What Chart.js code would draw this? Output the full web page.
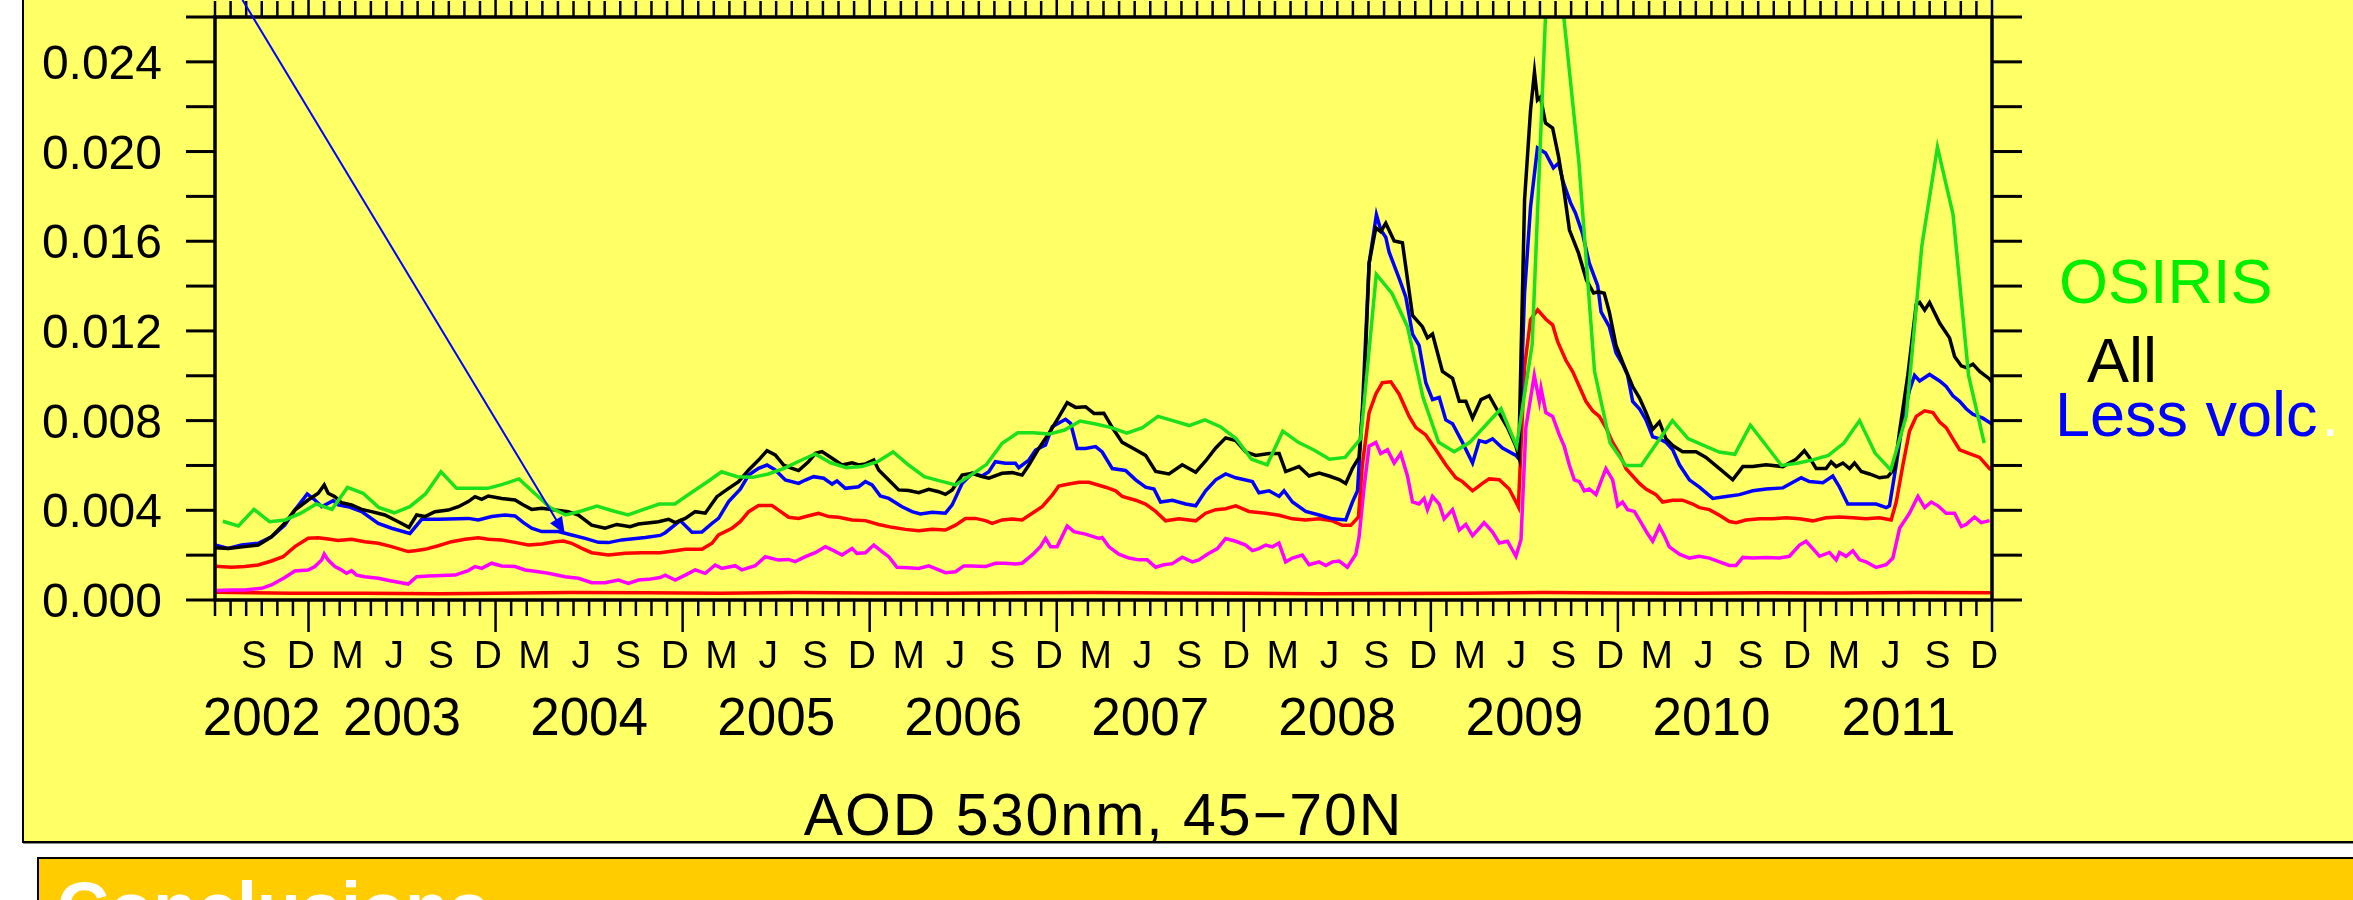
<!DOCTYPE html>
<html>
<head>
<meta charset="utf-8">
<title>AOD 530nm, 45-70N</title>
<script src="https://cdn.jsdelivr.net/npm/chart.js@4.4.1/dist/chart.umd.min.js"></script>
<style>
  html, body { margin: 0; padding: 0; background: #fff; width: 2353px; height: 900px; overflow: hidden; }
  #panel { position: absolute; left: 22px; top: -10px; width: 2400px; height: 849px; background: #ffff66; border: 2px solid #000; box-shadow: 1px 1px 0 #888; }
  #concl { position: absolute; left: 37px; top: 857px; width: 2400px; height: 200px; background: #ffcc00; border: 2px solid #000; }
  #concl span { position: absolute; left: 18px; top: 13px; font: bold 72px "Liberation Sans", Arial, sans-serif; line-height: 72px; color: #fff; }
  #chart { position: absolute; left: 0; top: 0; }
</style>
</head>
<body>
<div id="panel"></div>
<div id="concl"><span>Conclusions</span></div>
<canvas id="chart" width="2353" height="900"></canvas>
<script>
// tick labels
const yTickValues = [0, 0.002, 0.004, 0.006, 0.008, 0.010, 0.012, 0.014, 0.016, 0.018, 0.020, 0.022, 0.024, 0.026];
const yLabelValues = [0, 0.004, 0.008, 0.012, 0.016, 0.020, 0.024];
const yLabels = ['0.000', '0.004', '0.008', '0.012', '0.016', '0.020', '0.024'];
const labelMonths = [3, 6, 9, 12];
const monthLetters = ['M', 'J', 'S', 'D'];
const yearLabels = ['2002', '2003', '2004', '2005', '2006', '2007', '2008', '2009', '2010', '2011'];

// OSIRIS, one value per month from Jul 2002 to Dec 2011
const osirisAod = [
  0.00351, 0.00330, 0.00404, 0.00349, 0.00357, 0.00387, 0.00428, 0.00404, 0.00502, 0.00476, 0.00413, 0.00389,
  0.00416, 0.00473, 0.00572, 0.00498, 0.00498, 0.00498, 0.00517, 0.00540, 0.00476, 0.00412, 0.00379, 0.00397,
  0.00419, 0.00398, 0.00379, 0.00404, 0.00428, 0.00428, 0.00476, 0.00523, 0.00572, 0.00550, 0.00547, 0.00562,
  0.00587, 0.00620, 0.00651, 0.00612, 0.00590, 0.00595, 0.00617, 0.00660, 0.00602, 0.00550, 0.00531, 0.00513,
  0.00557, 0.00605, 0.00699, 0.00746, 0.00746, 0.00740, 0.00758, 0.00798, 0.00785, 0.00769, 0.00744, 0.00769,
  0.00819, 0.00799, 0.00778, 0.00803, 0.00773, 0.00720, 0.00628, 0.00603, 0.00753, 0.00703, 0.00669, 0.00628,
  0.00636, 0.00720, 0.01452, 0.01368, 0.01219, 0.00903, 0.00703, 0.00661, 0.00703, 0.00778, 0.00853, 0.00686,
  0.01140, 0.02850, 0.02620, 0.01950, 0.01020, 0.00700, 0.00600, 0.00600, 0.00700, 0.00800, 0.00720, 0.00690,
  0.00660, 0.00650, 0.00780, 0.00690, 0.00600, 0.00610, 0.00625, 0.00645, 0.00700, 0.00800, 0.00655, 0.00580,
  0.00820, 0.01580, 0.02020, 0.01720, 0.01000, 0.00700
];

// [year, aod]
const allAod = [
  [2002.500,0.00233],[2002.570,0.00230],[2002.659,0.00238],[2002.731,0.00245],[2002.802,0.00282],[2002.873,0.00342],
  [2002.927,0.00401],[2002.998,0.00446],[2003.052,0.00476],[2003.084,0.00513],[2003.105,0.00476],[2003.141,0.00461],
  [2003.177,0.00434],[2003.230,0.00424],[2003.284,0.00404],[2003.337,0.00394],[2003.408,0.00379],[2003.480,0.00349],
  [2003.537,0.00324],[2003.578,0.00379],[2003.622,0.00372],[2003.676,0.00394],[2003.747,0.00401],[2003.801,0.00416],
  [2003.854,0.00439],[2003.890,0.00461],[2003.926,0.00449],[2003.961,0.00464],[2004.033,0.00453],[2004.104,0.00446],
  [2004.149,0.00424],[2004.193,0.00404],[2004.247,0.00409],[2004.318,0.00401],[2004.389,0.00394],[2004.443,0.00379],
  [2004.514,0.00334],[2004.585,0.00320],[2004.648,0.00337],[2004.719,0.00327],[2004.764,0.00339],[2004.871,0.00349],
  [2004.925,0.00360],[2004.960,0.00345],[2005.014,0.00364],[2005.067,0.00394],[2005.121,0.00387],[2005.183,0.00461],
  [2005.246,0.00498],[2005.299,0.00528],[2005.353,0.00580],[2005.406,0.00624],[2005.451,0.00666],[2005.495,0.00647],
  [2005.540,0.00602],[2005.585,0.00587],[2005.620,0.00577],[2005.674,0.00617],[2005.709,0.00654],[2005.745,0.00662],
  [2005.799,0.00632],[2005.852,0.00602],[2005.906,0.00612],[2005.941,0.00602],[2005.977,0.00607],[2006.022,0.00624],
  [2006.048,0.00580],[2006.102,0.00535],[2006.155,0.00491],[2006.209,0.00488],[2006.262,0.00479],[2006.316,0.00494],
  [2006.369,0.00483],[2006.405,0.00471],[2006.441,0.00491],[2006.494,0.00557],[2006.548,0.00565],[2006.601,0.00550],
  [2006.637,0.00543],[2006.708,0.00565],[2006.762,0.00568],[2006.815,0.00557],[2006.851,0.00602],[2006.904,0.00676],
  [2006.958,0.00743],[2007.002,0.00803],[2007.056,0.00880],[2007.101,0.00859],[2007.154,0.00862],[2007.199,0.00832],
  [2007.252,0.00833],[2007.297,0.00769],[2007.350,0.00703],[2007.422,0.00670],[2007.475,0.00645],[2007.529,0.00573],
  [2007.600,0.00562],[2007.671,0.00603],[2007.743,0.00570],[2007.796,0.00620],[2007.850,0.00678],[2007.903,0.00723],
  [2007.957,0.00711],[2008.010,0.00661],[2008.064,0.00645],[2008.135,0.00653],[2008.189,0.00653],[2008.224,0.00573],
  [2008.295,0.00595],[2008.349,0.00553],[2008.403,0.00566],[2008.456,0.00553],[2008.510,0.00537],[2008.545,0.00520],
  [2008.581,0.00587],[2008.616,0.00636],[2008.643,0.00936],[2008.670,0.01502],[2008.706,0.01660],[2008.732,0.01643],
  [2008.759,0.01680],[2008.804,0.01601],[2008.848,0.01593],[2008.902,0.01269],[2008.955,0.01219],[2008.982,0.01169],
  [2009.009,0.01186],[2009.062,0.01019],[2009.116,0.00989],[2009.152,0.00886],[2009.187,0.00886],[2009.223,0.00811],
  [2009.268,0.00894],[2009.312,0.00911],[2009.357,0.00844],[2009.410,0.00769],[2009.455,0.00686],[2009.470,0.00640],
  [2009.501,0.01784],[2009.533,0.02185],[2009.554,0.02355],[2009.570,0.02230],[2009.586,0.02243],[2009.613,0.02127],
  [2009.651,0.02105],[2009.683,0.01976],[2009.709,0.01842],[2009.741,0.01650],[2009.789,0.01548],[2009.832,0.01427],
  [2009.870,0.01369],[2009.897,0.01374],[2009.927,0.01368],[2009.954,0.01285],[2009.990,0.01136],[2010.025,0.01061],
  [2010.079,0.00952],[2010.115,0.00902],[2010.150,0.00836],[2010.186,0.00761],[2010.222,0.00794],[2010.257,0.00719],
  [2010.293,0.00689],[2010.346,0.00661],[2010.418,0.00661],[2010.471,0.00636],[2010.543,0.00586],[2010.614,0.00536],
  [2010.668,0.00595],[2010.721,0.00595],[2010.792,0.00603],[2010.882,0.00595],[2010.953,0.00628],[2010.997,0.00666],
  [2011.024,0.00636],[2011.060,0.00586],[2011.113,0.00586],[2011.140,0.00616],[2011.167,0.00595],[2011.203,0.00611],
  [2011.238,0.00586],[2011.265,0.00611],[2011.301,0.00573],[2011.345,0.00562],[2011.399,0.00545],[2011.443,0.00550],
  [2011.479,0.00586],[2011.506,0.00753],[2011.550,0.01002],[2011.595,0.01318],[2011.613,0.01327],[2011.640,0.01293],
  [2011.666,0.01327],[2011.720,0.01235],[2011.773,0.01169],[2011.800,0.01086],[2011.836,0.01044],[2011.862,0.01036],
  [2011.898,0.01052],[2011.934,0.01019],[2011.987,0.00986],[2012.000,0.00970]
];

const lessVolcAod = [
  [2002.500,0.00245],[2002.570,0.00230],[2002.642,0.00245],[2002.731,0.00253],[2002.802,0.00282],[2002.873,0.00334],
  [2002.927,0.00401],[2002.993,0.00473],[2003.034,0.00446],[2003.070,0.00416],[2003.132,0.00443],[2003.159,0.00424],
  [2003.212,0.00416],[2003.284,0.00394],[2003.373,0.00342],[2003.444,0.00320],[2003.542,0.00297],[2003.605,0.00360],
  [2003.694,0.00360],[2003.854,0.00364],[2003.908,0.00357],[2003.979,0.00372],[2004.050,0.00379],[2004.104,0.00375],
  [2004.149,0.00345],[2004.193,0.00320],[2004.247,0.00305],[2004.336,0.00305],[2004.407,0.00290],[2004.479,0.00275],
  [2004.550,0.00257],[2004.603,0.00256],[2004.675,0.00268],[2004.800,0.00279],[2004.880,0.00288],[2004.907,0.00300],
  [2004.987,0.00354],[2005.050,0.00302],[2005.103,0.00303],[2005.157,0.00342],[2005.192,0.00364],[2005.246,0.00439],
  [2005.308,0.00494],[2005.353,0.00557],[2005.406,0.00587],[2005.451,0.00602],[2005.495,0.00580],[2005.549,0.00535],
  [2005.620,0.00520],[2005.656,0.00535],[2005.700,0.00550],[2005.754,0.00543],[2005.799,0.00517],[2005.825,0.00531],
  [2005.870,0.00498],[2005.941,0.00505],[2005.977,0.00528],[2006.013,0.00513],[2006.057,0.00464],[2006.102,0.00453],
  [2006.173,0.00416],[2006.227,0.00394],[2006.271,0.00384],[2006.334,0.00391],[2006.405,0.00387],[2006.441,0.00424],
  [2006.494,0.00520],[2006.548,0.00565],[2006.601,0.00553],[2006.637,0.00572],[2006.672,0.00617],[2006.726,0.00610],
  [2006.779,0.00610],[2006.797,0.00590],[2006.851,0.00624],[2006.887,0.00669],[2006.940,0.00691],[2006.976,0.00773],
  [2007.047,0.00806],[2007.074,0.00788],[2007.109,0.00676],[2007.154,0.00676],[2007.208,0.00684],[2007.243,0.00660],
  [2007.297,0.00586],[2007.368,0.00578],[2007.422,0.00536],[2007.475,0.00503],[2007.520,0.00495],[2007.555,0.00437],
  [2007.618,0.00445],[2007.689,0.00428],[2007.743,0.00420],[2007.796,0.00487],[2007.850,0.00536],[2007.903,0.00562],
  [2007.957,0.00545],[2008.046,0.00528],[2008.081,0.00478],[2008.135,0.00487],[2008.189,0.00462],[2008.215,0.00487],
  [2008.260,0.00437],[2008.331,0.00395],[2008.403,0.00379],[2008.474,0.00362],[2008.545,0.00357],[2008.581,0.00437],
  [2008.608,0.00487],[2008.634,0.00853],[2008.670,0.01502],[2008.709,0.01718],[2008.732,0.01651],[2008.759,0.01618],
  [2008.777,0.01551],[2008.830,0.01435],[2008.866,0.01352],[2008.902,0.01186],[2008.937,0.01136],[2008.973,0.00969],
  [2009.009,0.00894],[2009.045,0.00903],[2009.080,0.00803],[2009.116,0.00786],[2009.169,0.00703],[2009.223,0.00611],
  [2009.259,0.00711],[2009.294,0.00703],[2009.330,0.00719],[2009.383,0.00678],[2009.455,0.00645],[2009.470,0.00630],
  [2009.501,0.01369],[2009.533,0.01753],[2009.570,0.02016],[2009.613,0.01994],[2009.655,0.01927],[2009.683,0.01949],
  [2009.709,0.01860],[2009.747,0.01771],[2009.773,0.01726],[2009.811,0.01634],[2009.847,0.01502],[2009.892,0.01402],
  [2009.910,0.01285],[2009.954,0.01219],[2009.990,0.01102],[2010.025,0.01052],[2010.052,0.01002],[2010.079,0.00886],
  [2010.115,0.00853],[2010.150,0.00803],[2010.186,0.00728],[2010.222,0.00719],[2010.257,0.00703],[2010.293,0.00670],
  [2010.329,0.00603],[2010.382,0.00536],[2010.436,0.00503],[2010.507,0.00453],[2010.578,0.00462],[2010.650,0.00470],
  [2010.721,0.00487],[2010.792,0.00495],[2010.882,0.00500],[2010.980,0.00545],[2011.024,0.00528],[2011.096,0.00523],
  [2011.149,0.00553],[2011.185,0.00503],[2011.229,0.00428],[2011.292,0.00428],[2011.381,0.00428],[2011.435,0.00412],
  [2011.452,0.00420],[2011.488,0.00603],[2011.524,0.00803],[2011.559,0.00936],[2011.586,0.01002],[2011.613,0.00977],
  [2011.666,0.01006],[2011.720,0.00977],[2011.755,0.00952],[2011.791,0.00911],[2011.827,0.00886],[2011.862,0.00853],
  [2011.898,0.00828],[2011.951,0.00811],[2012.000,0.00785]
];

const redAod = [
  [2002.500,0.00150],[2002.588,0.00146],[2002.659,0.00149],[2002.731,0.00156],[2002.802,0.00174],[2002.864,0.00193],
  [2002.927,0.00238],[2002.998,0.00275],[2003.052,0.00278],[2003.105,0.00272],[2003.159,0.00265],[2003.230,0.00271],
  [2003.301,0.00260],[2003.373,0.00253],[2003.444,0.00238],[2003.533,0.00216],[2003.569,0.00220],[2003.622,0.00226],
  [2003.694,0.00242],[2003.765,0.00260],[2003.837,0.00271],[2003.908,0.00278],[2003.961,0.00271],[2004.033,0.00268],
  [2004.104,0.00257],[2004.175,0.00245],[2004.247,0.00250],[2004.318,0.00260],[2004.363,0.00263],[2004.407,0.00253],
  [2004.461,0.00230],[2004.514,0.00211],[2004.603,0.00201],[2004.693,0.00208],[2004.782,0.00211],[2004.880,0.00211],
  [2004.960,0.00220],[2005.014,0.00226],[2005.103,0.00226],[2005.157,0.00253],[2005.192,0.00290],[2005.264,0.00320],
  [2005.308,0.00349],[2005.353,0.00394],[2005.406,0.00421],[2005.478,0.00421],[2005.513,0.00401],[2005.567,0.00369],
  [2005.620,0.00364],[2005.674,0.00376],[2005.727,0.00387],[2005.781,0.00372],[2005.834,0.00369],[2005.906,0.00357],
  [2005.977,0.00354],[2006.048,0.00337],[2006.120,0.00324],[2006.191,0.00315],[2006.262,0.00309],[2006.334,0.00315],
  [2006.405,0.00312],[2006.459,0.00334],[2006.512,0.00363],[2006.565,0.00364],[2006.619,0.00354],[2006.655,0.00342],
  [2006.708,0.00357],[2006.762,0.00361],[2006.815,0.00357],[2006.869,0.00387],[2006.922,0.00416],[2006.976,0.00468],
  [2007.011,0.00508],[2007.065,0.00517],[2007.119,0.00525],[2007.172,0.00525],[2007.261,0.00503],[2007.315,0.00487],
  [2007.350,0.00462],[2007.422,0.00445],[2007.475,0.00428],[2007.529,0.00395],[2007.582,0.00353],[2007.653,0.00362],
  [2007.743,0.00353],[2007.796,0.00387],[2007.850,0.00403],[2007.903,0.00407],[2007.957,0.00420],[2008.028,0.00395],
  [2008.117,0.00387],[2008.189,0.00378],[2008.260,0.00362],[2008.331,0.00357],[2008.403,0.00362],[2008.474,0.00353],
  [2008.527,0.00333],[2008.572,0.00333],[2008.613,0.00370],[2008.634,0.00603],[2008.670,0.00836],[2008.706,0.00919],
  [2008.741,0.00969],[2008.786,0.00973],[2008.830,0.00919],[2008.884,0.00819],[2008.920,0.00769],[2008.973,0.00736],
  [2009.027,0.00670],[2009.080,0.00603],[2009.134,0.00545],[2009.169,0.00528],[2009.223,0.00487],[2009.276,0.00520],
  [2009.312,0.00540],[2009.366,0.00536],[2009.419,0.00495],[2009.455,0.00437],[2009.468,0.00415],[2009.501,0.01040],
  [2009.533,0.01250],[2009.571,0.01294],[2009.615,0.01252],[2009.651,0.01227],[2009.678,0.01152],[2009.722,0.01069],
  [2009.758,0.01019],[2009.794,0.00952],[2009.829,0.00886],[2009.865,0.00844],[2009.901,0.00819],[2009.936,0.00769],
  [2009.972,0.00703],[2010.008,0.00653],[2010.043,0.00586],[2010.079,0.00553],[2010.115,0.00520],[2010.150,0.00495],
  [2010.204,0.00470],[2010.239,0.00437],[2010.293,0.00445],[2010.346,0.00445],[2010.400,0.00428],[2010.436,0.00412],
  [2010.489,0.00403],[2010.543,0.00378],[2010.596,0.00350],[2010.632,0.00345],[2010.685,0.00357],[2010.757,0.00362],
  [2010.828,0.00362],[2010.899,0.00367],[2010.971,0.00362],[2011.042,0.00353],[2011.113,0.00367],[2011.185,0.00370],
  [2011.256,0.00367],[2011.327,0.00362],[2011.399,0.00367],[2011.461,0.00357],[2011.488,0.00437],[2011.524,0.00603],
  [2011.559,0.00753],[2011.595,0.00819],[2011.640,0.00844],[2011.684,0.00836],[2011.720,0.00794],[2011.755,0.00769],
  [2011.791,0.00719],[2011.827,0.00670],[2011.880,0.00653],[2011.934,0.00636],[2011.987,0.00586],[2012.000,0.00580]
];

const magentaAod = [
  [2002.500,0.00042],[2002.588,0.00045],[2002.659,0.00045],[2002.749,0.00052],[2002.802,0.00067],[2002.873,0.00100],
  [2002.927,0.00129],[2002.998,0.00134],[2003.034,0.00149],[2003.070,0.00178],[2003.084,0.00205],[2003.105,0.00178],
  [2003.141,0.00149],[2003.177,0.00134],[2003.203,0.00119],[2003.230,0.00131],[2003.257,0.00111],[2003.301,0.00104],
  [2003.373,0.00097],[2003.444,0.00085],[2003.533,0.00071],[2003.578,0.00104],[2003.640,0.00107],[2003.712,0.00109],
  [2003.783,0.00111],[2003.854,0.00131],[2003.890,0.00149],[2003.926,0.00141],[2003.979,0.00164],[2004.033,0.00152],
  [2004.104,0.00149],[2004.158,0.00134],[2004.229,0.00126],[2004.282,0.00119],[2004.372,0.00104],[2004.443,0.00097],
  [2004.514,0.00077],[2004.585,0.00077],[2004.657,0.00089],[2004.710,0.00074],[2004.764,0.00089],[2004.817,0.00092],
  [2004.880,0.00100],[2004.907,0.00111],[2004.960,0.00089],[2005.014,0.00111],[2005.067,0.00134],[2005.121,0.00119],
  [2005.174,0.00156],[2005.210,0.00141],[2005.281,0.00153],[2005.317,0.00134],[2005.388,0.00153],[2005.442,0.00193],
  [2005.513,0.00178],[2005.567,0.00181],[2005.602,0.00171],[2005.656,0.00193],[2005.709,0.00211],[2005.763,0.00238],
  [2005.808,0.00220],[2005.852,0.00201],[2005.906,0.00230],[2005.932,0.00208],[2005.977,0.00211],[2006.022,0.00245],
  [2006.066,0.00216],[2006.102,0.00193],[2006.146,0.00146],[2006.209,0.00144],[2006.262,0.00141],[2006.316,0.00152],
  [2006.369,0.00134],[2006.405,0.00122],[2006.459,0.00126],[2006.503,0.00152],[2006.548,0.00152],[2006.619,0.00149],
  [2006.672,0.00164],[2006.726,0.00164],[2006.779,0.00161],[2006.815,0.00164],[2006.869,0.00201],[2006.913,0.00238],
  [2006.940,0.00275],[2006.967,0.00238],[2007.002,0.00238],[2007.056,0.00330],[2007.092,0.00305],[2007.154,0.00294],
  [2007.225,0.00275],[2007.243,0.00279],[2007.279,0.00237],[2007.332,0.00204],[2007.386,0.00187],[2007.439,0.00179],
  [2007.484,0.00179],[2007.529,0.00146],[2007.573,0.00157],[2007.618,0.00162],[2007.671,0.00191],[2007.725,0.00170],
  [2007.760,0.00179],[2007.805,0.00204],[2007.859,0.00229],[2007.903,0.00274],[2007.957,0.00262],[2008.010,0.00245],
  [2008.046,0.00220],[2008.081,0.00229],[2008.117,0.00245],[2008.153,0.00237],[2008.188,0.00254],[2008.224,0.00170],
  [2008.260,0.00187],[2008.313,0.00200],[2008.349,0.00157],[2008.403,0.00170],[2008.438,0.00154],[2008.474,0.00170],
  [2008.510,0.00174],[2008.554,0.00146],[2008.599,0.00204],[2008.616,0.00279],[2008.643,0.00503],[2008.670,0.00686],
  [2008.706,0.00703],[2008.732,0.00653],[2008.768,0.00670],[2008.804,0.00611],[2008.839,0.00653],[2008.875,0.00553],
  [2008.902,0.00437],[2008.937,0.00428],[2008.964,0.00453],[2008.982,0.00403],[2009.009,0.00462],[2009.045,0.00428],
  [2009.071,0.00362],[2009.116,0.00403],[2009.152,0.00312],[2009.187,0.00337],[2009.223,0.00287],[2009.259,0.00320],
  [2009.285,0.00345],[2009.330,0.00303],[2009.366,0.00254],[2009.410,0.00262],[2009.455,0.00195],[2009.482,0.00270],
  [2009.508,0.00769],[2009.553,0.01002],[2009.580,0.00886],[2009.589,0.00944],[2009.615,0.00836],[2009.651,0.00819],
  [2009.687,0.00736],[2009.713,0.00686],[2009.740,0.00603],[2009.767,0.00536],[2009.794,0.00528],[2009.820,0.00487],
  [2009.847,0.00495],[2009.883,0.00470],[2009.909,0.00528],[2009.936,0.00586],[2009.972,0.00536],[2009.999,0.00420],
  [2010.025,0.00437],[2010.052,0.00403],[2010.088,0.00395],[2010.124,0.00345],[2010.159,0.00295],[2010.186,0.00262],
  [2010.222,0.00328],[2010.248,0.00287],[2010.275,0.00237],[2010.329,0.00204],[2010.382,0.00187],[2010.436,0.00195],
  [2010.489,0.00187],[2010.543,0.00170],[2010.596,0.00154],[2010.632,0.00154],[2010.668,0.00190],[2010.721,0.00187],
  [2010.792,0.00190],[2010.864,0.00187],[2010.917,0.00195],[2010.971,0.00245],[2011.006,0.00262],[2011.042,0.00229],
  [2011.078,0.00195],[2011.131,0.00212],[2011.167,0.00179],[2011.185,0.00212],[2011.220,0.00195],[2011.256,0.00220],
  [2011.292,0.00179],[2011.327,0.00170],[2011.381,0.00145],[2011.434,0.00157],[2011.470,0.00187],[2011.506,0.00320],
  [2011.559,0.00387],[2011.604,0.00462],[2011.640,0.00412],[2011.675,0.00437],[2011.711,0.00420],[2011.755,0.00387],
  [2011.800,0.00387],[2011.836,0.00328],[2011.862,0.00337],[2011.907,0.00370],[2011.942,0.00345],[2011.987,0.00354]
];

const baseAod = [
  [2002.5,0.00035],[2002.9,0.00030],[2003.3,0.00030],[2003.7,0.00028],[2004.0,0.00030],[2004.4,0.00033],
  [2004.8,0.00032],[2005.2,0.00030],[2005.6,0.00033],[2006.0,0.00031],[2006.4,0.00030],[2006.8,0.00032],
  [2007.2,0.00033],[2007.6,0.00031],[2008.0,0.00030],[2008.4,0.00028],[2008.8,0.00029],[2009.2,0.00030],
  [2009.6,0.00033],[2010.0,0.00031],[2010.4,0.00030],[2010.8,0.00032],[2011.2,0.00031],[2011.6,0.00033],
  [2012.0,0.00032]
];

// blue arrow, in data coordinates [year, aod]
const arrowFrom = [2002.647, 0.02676];
const arrowTo = [2004.370, 0.00294];

const xMin = 2002.5, xMax = 2012.0;
const startMonth = 6; // July
const font = '"Liberation Sans", Arial, sans-serif';

function toPoints(pairs) {
    return pairs.map(p => ({ x: p[0], y: p[1] }));
}

const osirisPts = osirisAod.map((v, i) => ({ x: xMin + (i + 0.5) / 12, y: v }));

const axesPlugin = {
    id: 'axesPlugin',
    afterDraw(chart) {
        const { ctx, chartArea: a, scales: { x, y } } = chart;
        const seg = (x1, y1, x2, y2) => { ctx.beginPath(); ctx.moveTo(x1, y1); ctx.lineTo(x2, y2); ctx.stroke(); };
        ctx.save();
        ctx.strokeStyle = '#000';
        ctx.fillStyle = '#000';

        // ticks on left and right
        ctx.lineWidth = 3;
        yTickValues.forEach(v => {
            const py = y.getPixelForValue(v);
            seg(a.left - 29, py, a.left, py);
            seg(a.right, py, a.right + 30, py);
        });

        // month ticks top and bottom, longer at the new year
        ctx.lineWidth = 2.5;
        const nMonths = Math.round((xMax - xMin) * 12);
        for (let i = 0; i <= nMonths; i++) {
            const px = x.getPixelForValue(xMin + i / 12);
            const len = (startMonth + i) % 12 === 0 ? 32 : 16;
            seg(px, a.bottom, px, a.bottom + len);
            seg(px, a.top, px, a.top - len);
        }

        // frame
        ctx.lineWidth = 3.5;
        ctx.strokeRect(a.left, a.top, a.right - a.left, a.bottom - a.top);

        // y labels
        ctx.font = '48px ' + font;
        ctx.textAlign = 'right';
        ctx.textBaseline = 'alphabetic';
        yLabelValues.forEach((v, i) => ctx.fillText(yLabels[i], a.left - 53, y.getPixelForValue(v) + 17));

        // month letters
        ctx.textAlign = 'center';
        ctx.font = '39px ' + font;
        for (let i = 0; i < nMonths; i++) {
            const k = labelMonths.indexOf((startMonth + i) % 12 + 1);
            if (k < 0) continue;
            ctx.fillText(monthLetters[k], x.getPixelForValue(xMin + (i + 0.5) / 12), a.bottom + 68);
        }

        // years, centred on the visible part of each year
        ctx.font = '53px ' + font;
        yearLabels.forEach(label => {
            const yr = Number(label);
            const mid = (Math.max(yr, xMin) + Math.min(yr + 1, xMax)) / 2;
            ctx.fillText(label, x.getPixelForValue(mid), a.bottom + 135);
        });

        // axis title
        ctx.font = '59px ' + font;
        ctx.letterSpacing = '2px';
        ctx.fillText('AOD 530nm, 45\u221270N', (a.left + a.right) / 2, a.bottom + 235);
        ctx.letterSpacing = '0px';

        // series names
        ctx.textAlign = 'left';
        ctx.font = '63px ' + font;
        ctx.fillStyle = '#00ee00';
        ctx.fillText('OSIRIS', a.right + 67, a.top + 286);
        ctx.fillStyle = '#000';
        ctx.fillText('All', a.right + 95, a.top + 365);
        ctx.fillStyle = '#0000ff';
        ctx.fillText('Less volc', a.right + 63, a.top + 419);
        const w = ctx.measureText('Less volc').width;
        ctx.fillStyle = '#ffffff';
        ctx.fillText('.', a.right + 63 + w + 4, a.top + 419);

        // arrow
        const x1 = x.getPixelForValue(arrowFrom[0]), y1 = y.getPixelForValue(arrowFrom[1]);
        const x2 = x.getPixelForValue(arrowTo[0]), y2 = y.getPixelForValue(arrowTo[1]);
        ctx.strokeStyle = '#0000ff';
        ctx.fillStyle = '#0000ff';
        ctx.lineWidth = 2;
        seg(x1, y1, x2, y2);
        const ang = Math.atan2(y2 - y1, x2 - x1);
        const hl = 17, hw = 7;
        ctx.beginPath();
        ctx.moveTo(x2, y2);
        ctx.lineTo(x2 - hl * Math.cos(ang) + hw * Math.sin(ang), y2 - hl * Math.sin(ang) - hw * Math.cos(ang));
        ctx.lineTo(x2 - hl * Math.cos(ang) - hw * Math.sin(ang), y2 - hl * Math.sin(ang) + hw * Math.cos(ang));
        ctx.closePath();
        ctx.fill();
        ctx.restore();
    }
};

function line(label, data, color, order) {
    return { label: label, data: data, borderColor: color, borderWidth: 3.5, pointRadius: 0, tension: 0, fill: false, order: order };
}

new Chart(document.getElementById('chart'), {
    type: 'line',
    data: {
        datasets: [
            line('OSIRIS', osirisPts, '#1be01b', 0),
            line('All', toPoints(allAod), '#000000', 1),
            line('Less volc.', toPoints(lessVolcAod), '#0000ff', 2),
            line('red', toPoints(redAod), '#ff0000', 3),
            line('magenta', toPoints(magentaAod), '#ff00ff', 4),
            line('base', toPoints(baseAod), '#ff0000', 5)
        ]
    },
    options: {
        responsive: false,
        animation: false,
        devicePixelRatio: 1,
        layout: { padding: { left: 215, top: 17, right: 361, bottom: 300 } },
        scales: {
            x: { type: 'linear', min: xMin, max: xMax, display: false },
            y: { type: 'linear', min: 0, max: 0.026, display: false }
        },
        plugins: { legend: { display: false }, tooltip: { enabled: false } }
    },
    plugins: [axesPlugin]
});
</script>
</body>
</html>
